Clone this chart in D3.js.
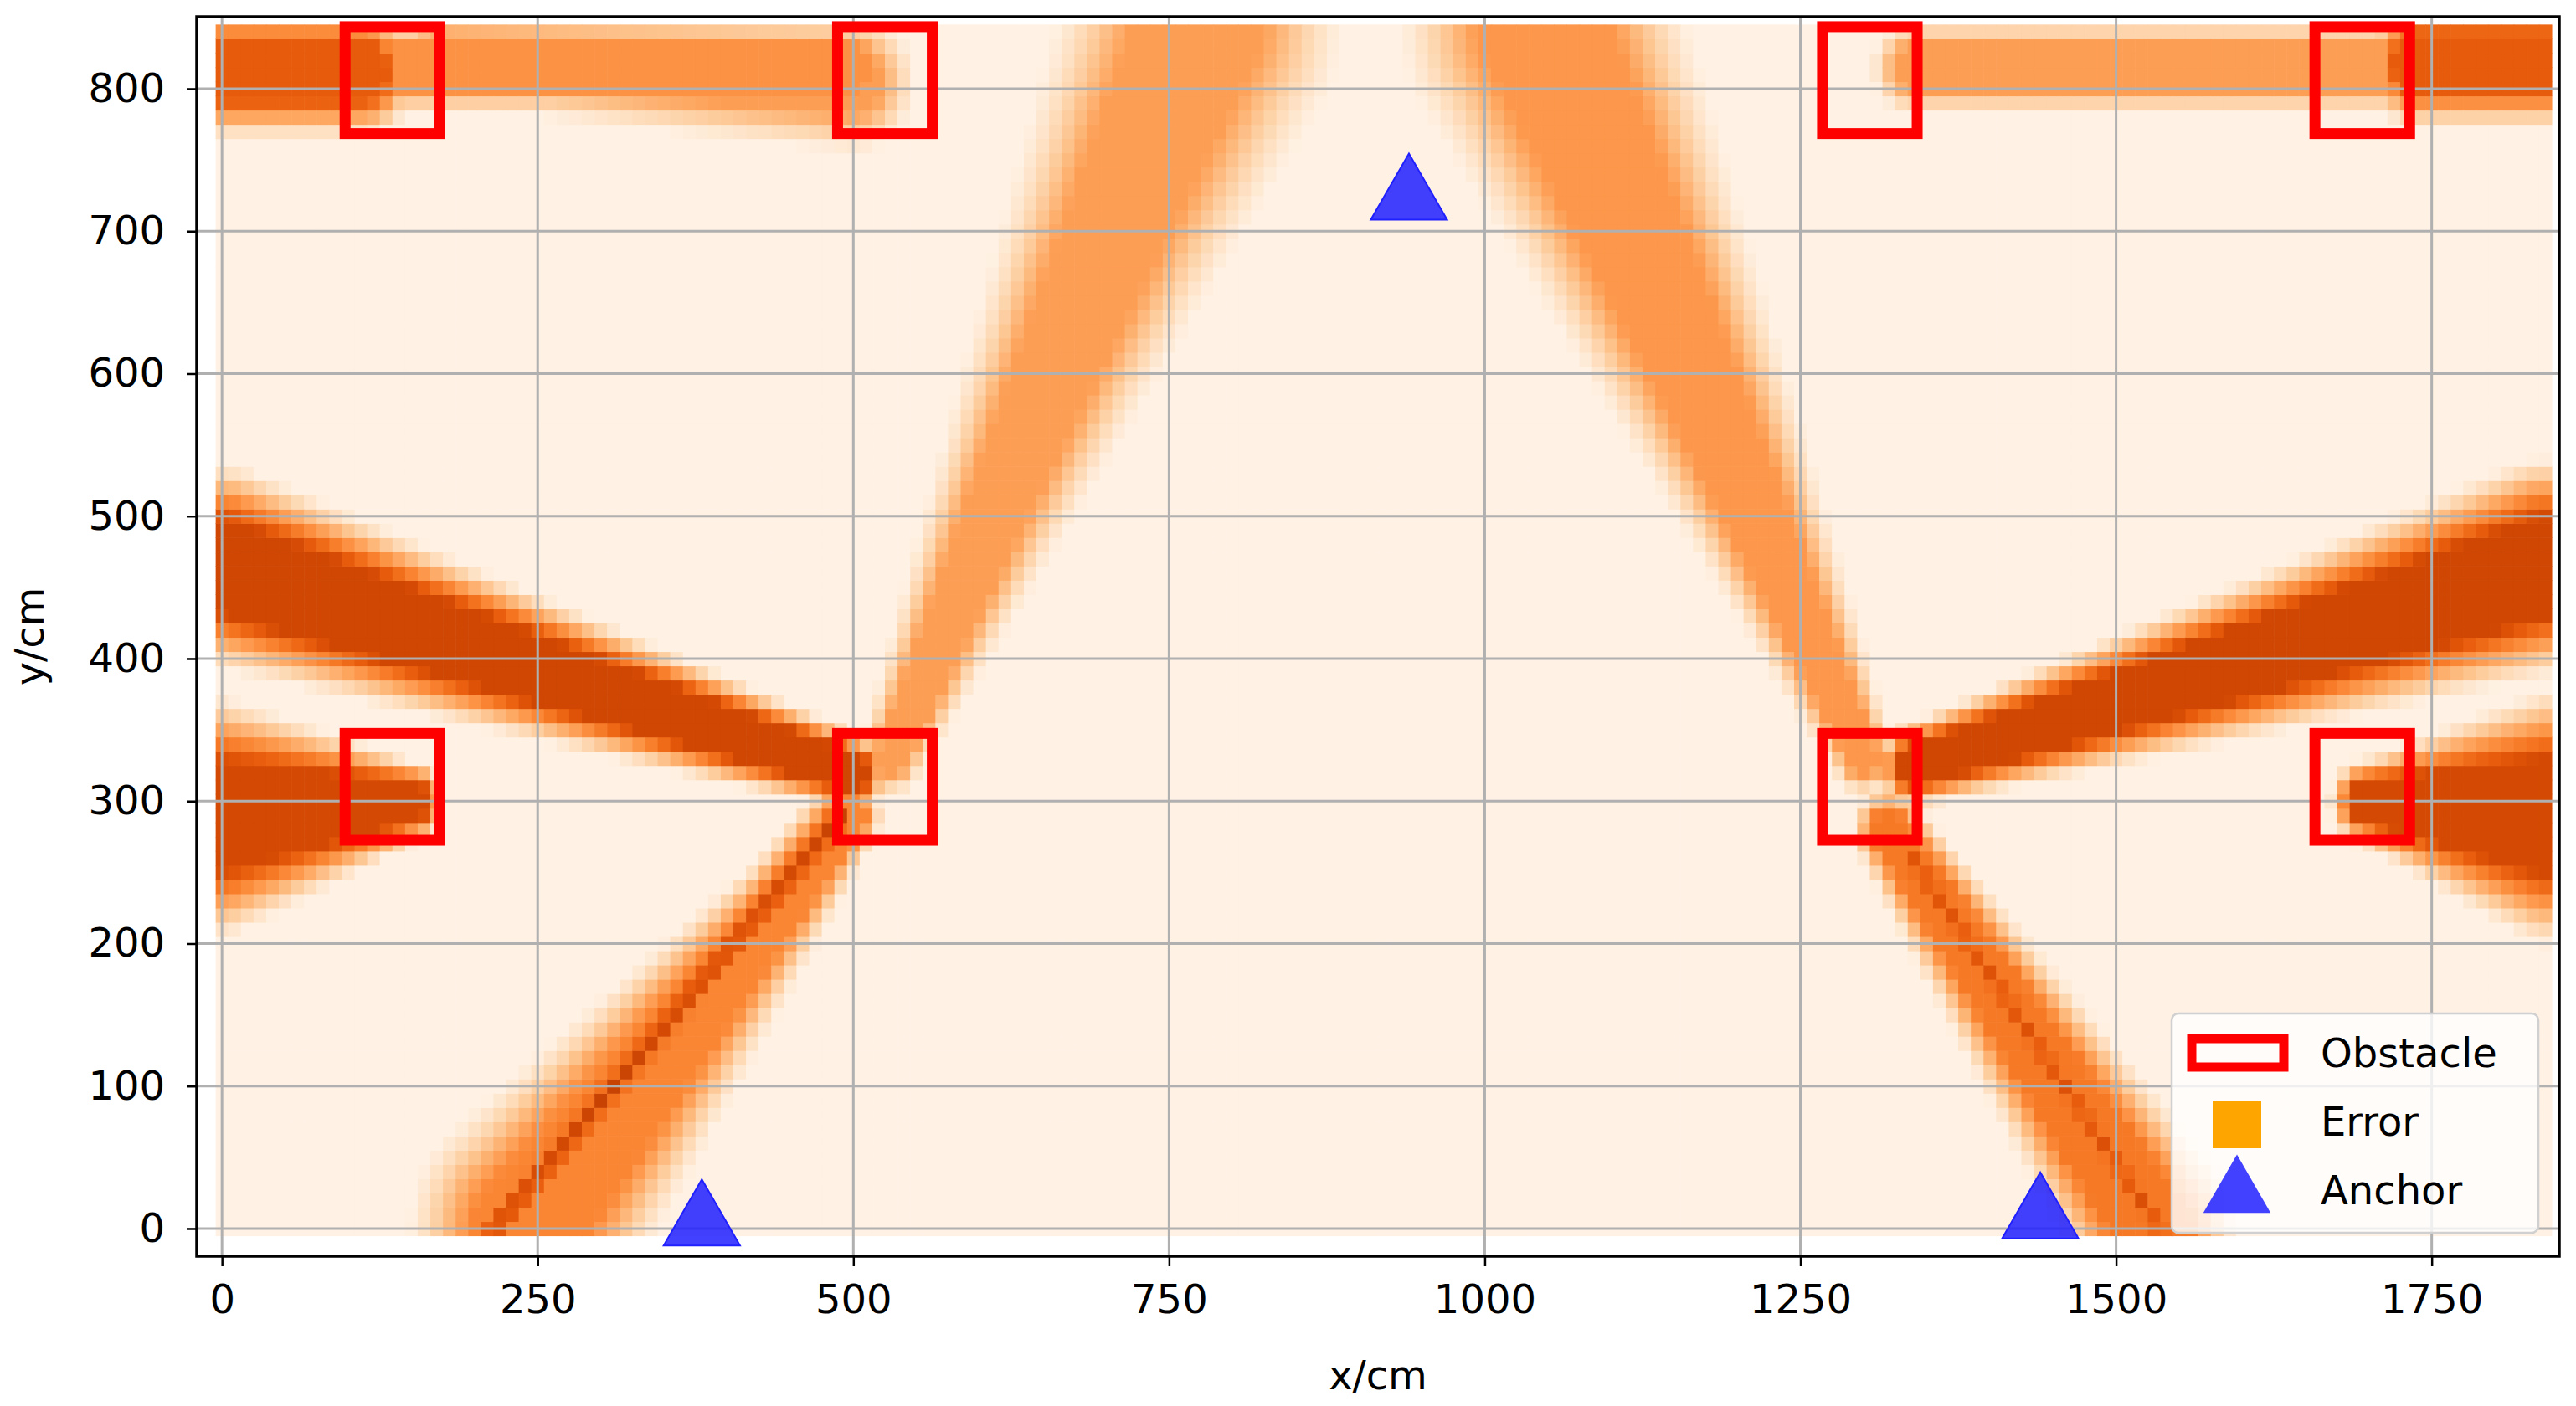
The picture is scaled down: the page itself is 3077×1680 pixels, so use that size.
<!DOCTYPE html>
<html><head><meta charset="utf-8">
<script src="https://cdn.jsdelivr.net/npm/d3@7"></script>
<style>body{margin:0;background:#fff}text{font-family:"DejaVu Sans",sans-serif}</style>
</head><body><svg id="chart" width="3077" height="1680"></svg>
<script>
/* error bands: start point, end point, half widths, peak */
var bandX0 = [240, 0, 0, 0, 0, 170, 530, 1300, 1340, 1700, 1320, 1340, 1740];
var bandY0 = [0, 465, 290, 812, 815, 822, 330, 330, 325, 300, 280, 815, 818];
var bandX1 = [500, 500, 150, 110, 500, 500, 775, 1045, 1840, 1840, 1530, 1840, 1840];
var bandY1 = [290, 320, 300, 812, 815, 805, 845, 845, 465, 290, 0, 815, 818];
var bandW0 = [80, 60, 75, 35, 22, 22, 14, 14, 18, 20, 18, 22, 34];
var bandW1 = [12, 16, 18, 35, 22, 38, 100, 100, 65, 80, 55, 22, 34];
var bandPeak = [0.55, 0.82, 0.8, 0.72, 0.5, 0.45, 0.45, 0.48, 0.82, 0.8, 0.6, 0.45, 0.72];
/* darker thin cores inside the lower diagonals */
var coreX0 = [215, 1335], coreY0 = [0, 265], coreX1 = [490, 1535], coreY1 = [290, 0];
var corePeak = [0.85, 0.78];

var obstacleX = [135, 525, 1305, 1695, 135, 525, 1305, 1695];
var obstacleY = [806, 806, 806, 806, 310, 310, 310, 310];
var obstacleSize = 75;
var anchorX = [380, 940, 1440];
var anchorY = [0, 720, 5];
var xTicks = [0, 250, 500, 750, 1000, 1250, 1500, 1750];
var yTicks = [0, 100, 200, 300, 400, 500, 600, 700, 800];
var legendLabels = ["Obstacle", "Error", "Anchor"];

var svg = d3.select("#chart");
var L = 235, R = 3057, T = 20, B = 1501;
var x = d3.scaleLinear().domain([-20, 1851]).range([L, R]);
var y = d3.scaleLinear().domain([-19.4, 850.5]).range([B, T]);

function segDist(px, py, ax, ay, bx, by) {
  var dx = bx - ax, dy = by - ay, l2 = dx * dx + dy * dy;
  var t = l2 ? Math.max(0, Math.min(1, ((px - ax) * dx + (py - ay) * dy) / l2)) : 0;
  var qx = ax + t * dx, qy = ay + t * dy;
  return {d: Math.hypot(px - qx, py - qy), t: t};
}

var cells = [];
for (var cx = 0; cx <= 1840; cx += 10) {
  for (var cy = 0; cy <= 840; cy += 10) {
    var v = 0;
    for (var i = 0; i < bandX0.length; i++) {
      var s = segDist(cx, cy, bandX0[i], bandY0[i], bandX1[i], bandY1[i]);
      var w = bandW0[i] + (bandW1[i] - bandW0[i]) * s.t;
      var f = Math.max(0, Math.min(1, 1.8 * (1 - s.d / (w + 12))));
      v = Math.max(v, bandPeak[i] * f);
    }
    for (var j = 0; j < coreX0.length; j++) {
      var c = segDist(cx, cy, coreX0[j], coreY0[j], coreX1[j], coreY1[j]);
      v = Math.max(v, corePeak[j] * Math.max(0, 1 - c.d / 28));
    }
    cells.push({x: cx, y: cy, v: v});
  }
}

var color = function (v) { return d3.interpolateOranges(0.03 + v * 0.9); };
svg.append("g").selectAll("rect").data(cells).join("rect")
  .attr("x", function (d) { return x(d.x - 5); })
  .attr("y", function (d) { return y(d.y + 5); })
  .attr("width", x(10) - x(0) + 0.6)
  .attr("height", y(0) - y(10) + 0.6)
  .attr("fill", function (d) { return color(d.v); });

/* grid */
var grid = svg.append("g").attr("stroke", "#b0b0b0").attr("stroke-width", 3);
xTicks.forEach(function (t) { grid.append("line").attr("x1", x(t)).attr("x2", x(t)).attr("y1", T).attr("y2", B); });
yTicks.forEach(function (t) { grid.append("line").attr("y1", y(t)).attr("y2", y(t)).attr("x1", L).attr("x2", R); });

/* obstacles */
svg.append("g").selectAll("rect").data(obstacleX).join("rect")
  .attr("x", function (d) { return x(d - obstacleSize / 2); })
  .attr("y", function (d, i) { return y(obstacleY[i] + obstacleSize / 2); })
  .attr("width", x(obstacleSize) - x(0))
  .attr("height", y(0) - y(obstacleSize))
  .attr("fill", "none").attr("stroke", "red").attr("stroke-width", 13);

/* anchors */
var tri = d3.symbol().type(d3.symbolTriangle).size(3600);
svg.append("g").selectAll("path").data(anchorX).join("path")
  .attr("d", tri)
  .attr("transform", function (d, i) { return "translate(" + x(d) + "," + (y(anchorY[i]) - 6) + ")"; })
  .attr("fill", "#2020ff").attr("fill-opacity", 0.85).attr("stroke", "#2020ff").attr("stroke-width", 2);

/* axes */
var xa = svg.append("g").attr("transform", "translate(0," + B + ")")
  .call(d3.axisBottom(x).tickValues(xTicks).tickFormat(d3.format("d")).tickSize(12).tickPadding(22));
var ya = svg.append("g").attr("transform", "translate(" + L + ",0)")
  .call(d3.axisLeft(y).tickValues(yTicks).tickFormat(d3.format("d")).tickSize(12).tickPadding(26));
[xa, ya].forEach(function (a) {
  a.select(".domain").remove();
  a.selectAll("line").attr("stroke", "#000").attr("stroke-width", 2.5);
  a.selectAll("text").attr("font-size", 48).attr("fill", "#000").attr("font-family", "DejaVu Sans");
});
svg.append("rect").attr("x", L).attr("y", T).attr("width", R - L).attr("height", B - T)
  .attr("fill", "none").attr("stroke", "#000").attr("stroke-width", 3.5);
svg.append("text").attr("x", (L + R) / 2).attr("y", 1660).attr("text-anchor", "middle")
  .attr("font-size", 48).text("x/cm");
svg.append("text").attr("transform", "translate(52," + (T + B) / 2 + ") rotate(-90)")
  .attr("text-anchor", "middle").attr("font-size", 48).text("y/cm");

/* legend */
var lg = svg.append("g").attr("transform", "translate(2594,1211)");
lg.append("rect").attr("width", 438).attr("height", 262).attr("rx", 8)
  .attr("fill", "#fff").attr("fill-opacity", 0.8).attr("stroke", "#d0d0d0").attr("stroke-width", 2.5);
lg.append("rect").attr("x", 24).attr("y", 30).attr("width", 110).attr("height", 34)
  .attr("fill", "none").attr("stroke", "red").attr("stroke-width", 11);
lg.append("rect").attr("x", 49).attr("y", 105).attr("width", 58).attr("height", 56).attr("fill", "orange");
lg.append("path").attr("d", d3.symbol().type(d3.symbolTriangle).size(2800))
  .attr("transform", "translate(78,215)").attr("fill", "#2020ff").attr("fill-opacity", 0.85);
lg.selectAll("text.lab").data(legendLabels).join("text")
  .attr("x", 178).attr("y", function (d, i) { return 64 + i * 82; })
  .attr("font-size", 48).text(function (d) { return d; });
</script></body></html>
